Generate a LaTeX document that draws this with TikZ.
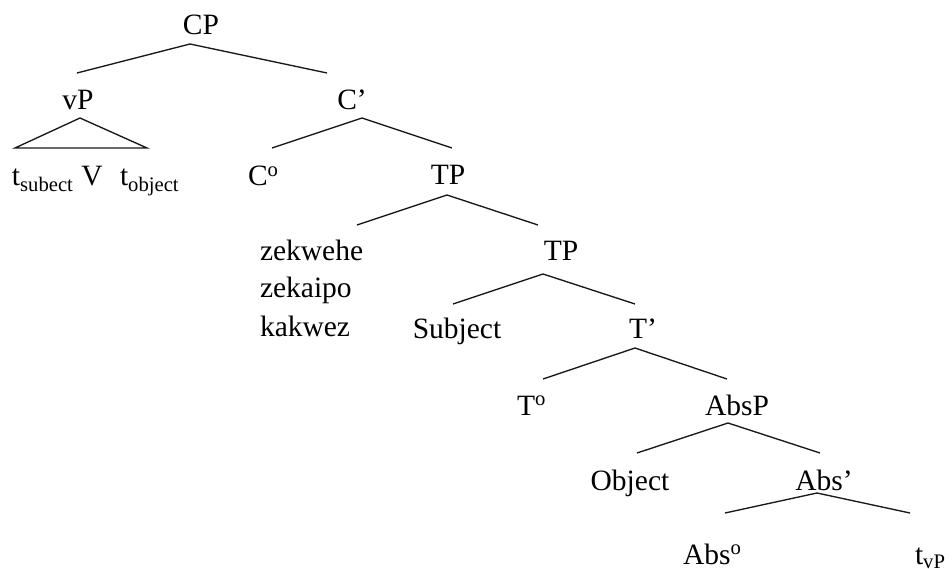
\documentclass[tikz,border=0pt]{standalone}
\usepackage{fontspec}
\setmainfont{Liberation Serif}
\tikzset{
  lbl/.style={inner sep=0pt, outer sep=0pt, font=\fontsize{29.5}{35}\selectfont, text=black},
  branch/.style={line width=1.35pt, draw=black!90}
}
\begin{document}
\begin{tikzpicture}[x=1pt,y=-1pt]
\useasboundingbox (0,0) rectangle (952,569);
% labels
\node[lbl, anchor=base] (CP) at (201,35) {CP};
\node[lbl, anchor=base] (vP) at (78,110) {vP};
\node[lbl, anchor=base] (Cbar) at (352,110) {C’};
\node[lbl, anchor=base west] (tsub) at (12,186) {t\textsubscript{subect}};
\node[lbl, anchor=base] (V) at (92,186) {V};
\node[lbl, anchor=base west] (tobj) at (120,186) {t\textsubscript{object}};
\node[lbl, anchor=base west] (C0) at (248,186) {C\textsuperscript{o}};
\node[lbl, anchor=base] (TP1) at (448,185) {TP};
\node[lbl, anchor=base west] (w1) at (260,260) {zekwehe};
\node[lbl, anchor=base west] (w2) at (260,297) {zekaipo};
\node[lbl, anchor=base west] (w3) at (260,336) {kakwez};
\node[lbl, anchor=base] (TP2) at (561,260) {TP};
\node[lbl, anchor=base] (Subj) at (457,338) {Subject};
\node[lbl, anchor=base] (Tbar) at (643,338) {T’};
\node[lbl, anchor=base west] (T0) at (517,415) {T\textsuperscript{o}};
\node[lbl, anchor=base] (AbsP) at (737,415) {AbsP};
\node[lbl, anchor=base] (Obj) at (630,490) {Object};
\node[lbl, anchor=base] (Absbar) at (824,490) {Abs’};
\node[lbl, anchor=base west] (Abs0) at (683,564) {Abs\textsuperscript{o}};
\node[lbl, anchor=base west] (tvP) at (915,564) {t\textsubscript{vP}};
% branch end points
\coordinate (CP-a) at (190,44);   \coordinate (CP-l) at (77,73);   \coordinate (CP-r) at (327,73);
\coordinate (vP-a) at (80,118);   \coordinate (vP-l) at (15,148);  \coordinate (vP-r) at (147,148);
\coordinate (Cb-a) at (362,118);  \coordinate (Cb-l) at (272,148); \coordinate (Cb-r) at (452,148);
\coordinate (T1-a) at (447,195);  \coordinate (T1-l) at (357,225); \coordinate (T1-r) at (538,225);
\coordinate (T2-a) at (543,274);  \coordinate (T2-l) at (453,304); \coordinate (T2-r) at (635,304);
\coordinate (Tb-a) at (635,348);  \coordinate (Tb-l) at (543,379); \coordinate (Tb-r) at (727,379);
\coordinate (AP-a) at (728,423);  \coordinate (AP-l) at (637,453); \coordinate (AP-r) at (820,453);
\coordinate (Ab-a) at (817,493);  \coordinate (Ab-l) at (725,513); \coordinate (Ab-r) at (910,513);
% branches
\draw[branch] (CP-l) -- (CP-a) -- (CP-r);
\draw[branch] (vP-a) -- (vP-l) -- (vP-r) -- cycle;
\draw[branch] (Cb-l) -- (Cb-a) -- (Cb-r);
\draw[branch] (T1-l) -- (T1-a) -- (T1-r);
\draw[branch] (T2-l) -- (T2-a) -- (T2-r);
\draw[branch] (Tb-l) -- (Tb-a) -- (Tb-r);
\draw[branch] (AP-l) -- (AP-a) -- (AP-r);
\draw[branch] (Ab-l) -- (Ab-a) -- (Ab-r);
\end{tikzpicture}
\end{document}
